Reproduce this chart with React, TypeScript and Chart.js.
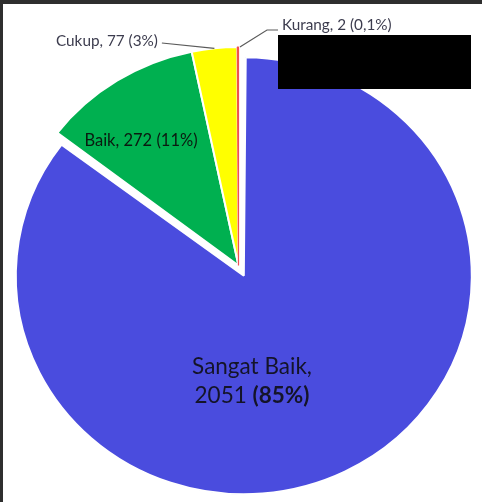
import React, { useEffect, useRef } from "react";
import { Chart, registerables } from "chart.js";

Chart.register(...registerables);

// ---- data ----
const categories = ["Sangat Baik", "Baik", "Cukup", "Kurang"];
const values = [2051, 272, 77, 2];
const percentLabels = ["85%", "11%", "3%", "0,1%"];
const sliceColors = ["#4A4CDE", "#00B050", "#FFFF00", "#FF0000"];
const sliceBorders = ["#FFFFFF", "#FFFFFF", "#FFFFFF", "#F05050"];
const sliceBorderWidths = [2, 2, 2, 1.2];
const sliceOffsets = [48, 0, 0, 0];

// ---- style / layout ----
const Y_SCALE = 0.958;
const FONT = "Lato, 'Open Sans', sans-serif";
const OUT_COLOR = "#3c3c4e";
const IN_COLOR = "#141428";
const LEADER = "#5a5a5a";

const ellipsePlugin = {
  id: "ellipse",
  afterDatasetUpdate(chart: any) {
    const arcs = chart.getDatasetMeta(0).data;
    arcs.forEach((a: any, i: number) => {
      // Chart.js enlarges an offset arc's radius by offset/4; undo that
      a.outerRadius = a.outerRadius - sliceOffsets[i] / 4;
    });
  },
  beforeDatasetsDraw(chart: any) {
    const ctx = chart.ctx;
    const a = chart.getDatasetMeta(0).data[0];
    ctx.save();
    ctx.translate(0, a.y);
    ctx.scale(1, Y_SCALE);
    ctx.translate(0, -a.y);
  },
  afterDatasetsDraw(chart: any) {
    chart.ctx.restore();
  },
};

const labelPlugin = {
  id: "labels",
  afterDraw(chart: any) {
    const ctx = chart.ctx as CanvasRenderingContext2D;
    const arcs = chart.getDatasetMeta(0).data;
    const cx = arcs[1].x;
    const cy = arcs[1].y;
    const R = arcs[1].outerRadius;
    const edge = (i: number) => {
      const a = (arcs[i].startAngle + arcs[i].endAngle) / 2;
      return [cx + Math.cos(a) * R, cy + Math.sin(a) * R * Y_SCALE];
    };
    const fmt = (i: number) => `${categories[i]}, ${values[i]} (${percentLabels[i]})`;

    ctx.save();
    ctx.textBaseline = "alphabetic";

    // Sangat Baik (inside, two lines, percentage bold)
    ctx.fillStyle = IN_COLOR;
    ctx.textAlign = "left";
    const bx = cx + 13.5;
    const big = 22.5;
    ctx.font = `${big}px ${FONT}`;
    const l1 = `${categories[0]},`;
    const w1 = ctx.measureText(l1).width;
    ctx.fillText(l1, bx - w1 / 2, cy + 108.5);
    const p1 = `${values[0]} `;
    const wp1 = ctx.measureText(p1).width;
    ctx.font = `bold ${big}px ${FONT}`;
    const p2 = `(${percentLabels[0]})`;
    const wp2 = ctx.measureText(p2).width;
    const sx = bx - (wp1 + wp2) / 2;
    ctx.font = `${big}px ${FONT}`;
    ctx.fillText(p1, sx, cy + 137.5);
    ctx.font = `bold ${big}px ${FONT}`;
    ctx.fillText(p2, sx + wp1, cy + 137.5);

    // Baik (inside)
    ctx.font = `16.5px ${FONT}`;
    ctx.textAlign = "center";
    ctx.textBaseline = "middle";
    ctx.fillStyle = "#0a1a10";
    ctx.fillText(fmt(1), cx - 97.5, cy - 124.5);

    // Cukup (outside, leader)
    ctx.font = `15.3px ${FONT}`;
    ctx.textAlign = "left";
    ctx.fillStyle = OUT_COLOR;
    const cxText = cx - 182.5;
    const cyText = cy - 224.5;
    ctx.fillText(fmt(2), cxText, cyText);
    const cw = ctx.measureText(fmt(2)).width;
    const e2 = edge(2);
    ctx.strokeStyle = LEADER;
    ctx.lineWidth = 1.2;
    ctx.beginPath();
    ctx.moveTo(cxText + cw + 4, cyText + 2);
    ctx.lineTo(e2[0], e2[1]);
    ctx.stroke();

    // Kurang (outside, leader)
    const kx = cx + 43.5;
    const ky = cy - 240.5;
    ctx.fillText(fmt(3), kx, ky);
    const e3 = edge(3);
    ctx.beginPath();
    ctx.moveTo(e3[0] + 2, e3[1]);
    ctx.lineTo(kx - 15, ky + 5);
    ctx.lineTo(kx - 4, ky + 5);
    ctx.stroke();

    ctx.restore();
  },
};

export default function App() {
  const ref = useRef<HTMLCanvasElement | null>(null);
  useEffect(() => {
    if (!ref.current) return;
    const chart = new Chart(ref.current, {
      type: "pie",
      data: {
        labels: categories,
        datasets: [
          {
            data: values,
            backgroundColor: sliceColors,
            borderColor: sliceBorders,
            borderWidth: sliceBorderWidths,
            offset: sliceOffsets,
            radius: 228,
          } as any,
        ],
      },
      options: {
        responsive: false,
        animation: false,
        layout: { padding: { left: 0, right: 5, top: 0, bottom: 9 } },
        plugins: {
          legend: { display: false },
          tooltip: { enabled: false },
          title: { display: false },
        },
      },
      plugins: [ellipsePlugin, labelPlugin],
    });
    return () => chart.destroy();
  }, []);

  return (
    <div
      style={{
        position: "fixed",
        left: 0,
        top: 0,
        width: 482,
        height: 502,
        overflow: "hidden",
        background: "#ffffff",
      }}
    >
      <canvas ref={ref} width={482} height={540} style={{ display: "block", position: "absolute", left: 0, top: 0 }} />
      <div style={{ position: "absolute", left: 278, top: 35, width: 193, height: 54, background: "#000" }} />
      <div style={{ position: "absolute", left: 0, top: 0, width: 482, height: 4, background: "#2e2e2e" }} />
      <div style={{ position: "absolute", left: 0, top: 0, width: 3, height: 502, background: "#2e2e2e" }} />
    </div>
  );
}
